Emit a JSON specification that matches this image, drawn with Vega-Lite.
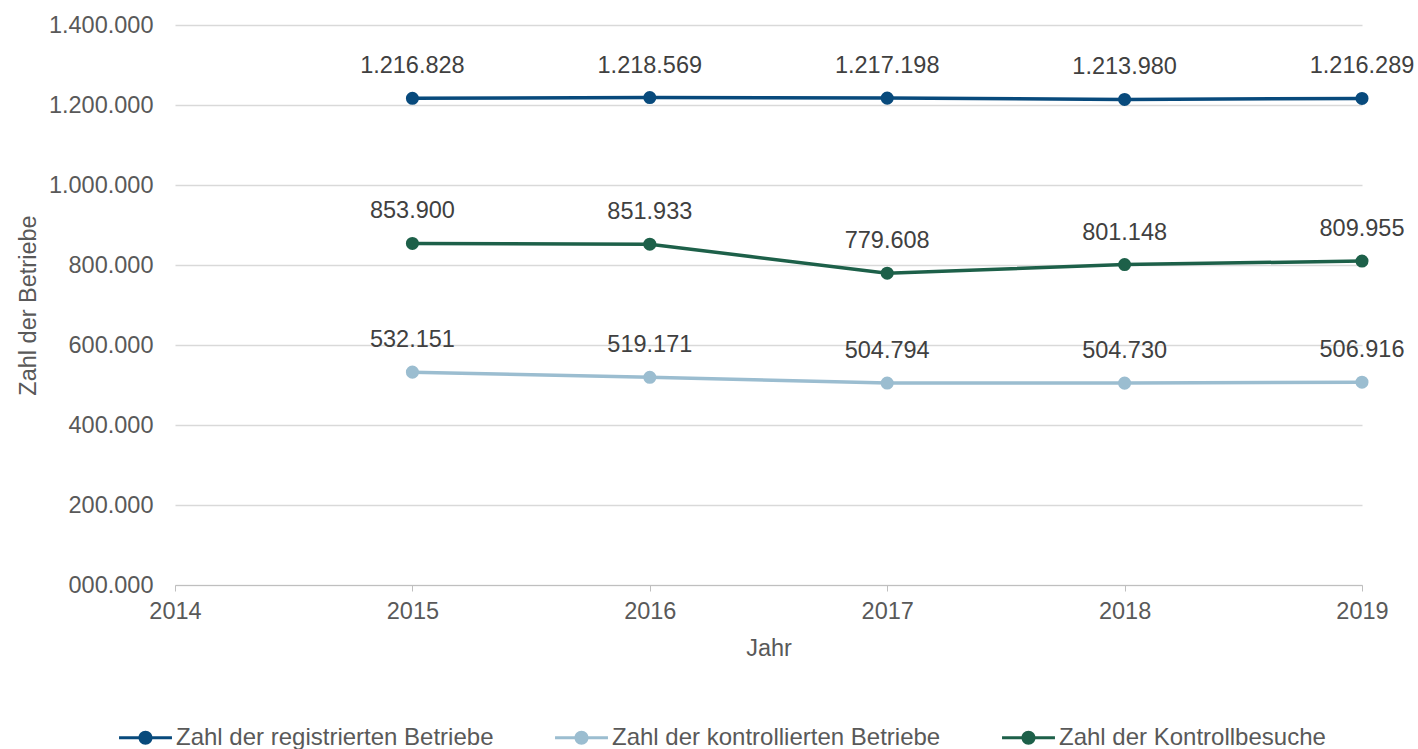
{
  "$schema": "https://vega.github.io/schema/vega-lite/v6.json",
  "width": 1187,
  "height": 560,
  "padding": {"left": 16, "top": 13, "right": 0, "bottom": 0},
  "background": "white",
  "config": {
    "locale": {"number": {"decimal": ",", "thousands": ".", "grouping": [3], "currency": ["", " €"]}},
    "font": "Liberation Sans",
    "view": {"stroke": null}
  },
  "data": {"values": [
    {"Jahr": 2015, "Serie": "Zahl der registrierten Betriebe", "Wert": 1216828},
    {"Jahr": 2016, "Serie": "Zahl der registrierten Betriebe", "Wert": 1218569},
    {"Jahr": 2017, "Serie": "Zahl der registrierten Betriebe", "Wert": 1217198},
    {"Jahr": 2018, "Serie": "Zahl der registrierten Betriebe", "Wert": 1213980},
    {"Jahr": 2019, "Serie": "Zahl der registrierten Betriebe", "Wert": 1216289},
    {"Jahr": 2015, "Serie": "Zahl der kontrollierten Betriebe", "Wert": 532151},
    {"Jahr": 2016, "Serie": "Zahl der kontrollierten Betriebe", "Wert": 519171},
    {"Jahr": 2017, "Serie": "Zahl der kontrollierten Betriebe", "Wert": 504794},
    {"Jahr": 2018, "Serie": "Zahl der kontrollierten Betriebe", "Wert": 504730},
    {"Jahr": 2019, "Serie": "Zahl der kontrollierten Betriebe", "Wert": 506916},
    {"Jahr": 2015, "Serie": "Zahl der Kontrollbesuche", "Wert": 853900},
    {"Jahr": 2016, "Serie": "Zahl der Kontrollbesuche", "Wert": 851933},
    {"Jahr": 2017, "Serie": "Zahl der Kontrollbesuche", "Wert": 779608},
    {"Jahr": 2018, "Serie": "Zahl der Kontrollbesuche", "Wert": 801148},
    {"Jahr": 2019, "Serie": "Zahl der Kontrollbesuche", "Wert": 809955}
  ]},
  "encoding": {
    "x": {
      "field": "Jahr", "type": "quantitative",
      "scale": {"domain": [2014, 2019], "nice": false, "zero": false},
      "axis": {
        "values": [2014, 2015, 2016, 2017, 2018, 2019], "format": "d", "title": "Jahr",
        "grid": false, "domainColor": "#bfbfbf", "tickColor": "#bfbfbf", "tickSize": 6,
        "labelPadding": 8, "labelFontSize": 23.5, "labelColor": "#595959", "labelFlush": false,
        "titleFontSize": 23.5, "titleColor": "#595959", "titleFontWeight": "normal", "titlePadding": 14
      }
    },
    "y": {
      "field": "Wert", "type": "quantitative",
      "scale": {"domain": [0, 1400000], "nice": false},
      "axis": {
        "values": [0, 200000, 400000, 600000, 800000, 1000000, 1200000, 1400000],
        "format": ",d", "labelExpr": "datum.value === 0 ? '000.000' : datum.label",
        "title": "Zahl der Betriebe", "domain": false, "ticks": false,
        "gridColor": "#d9d9d9", "gridWidth": 1.5, "labelPadding": 22,
        "labelFontSize": 23.5, "labelColor": "#595959",
        "titleFontSize": 23.5, "titleColor": "#595959", "titleFontWeight": "normal", "titlePadding": 8
      }
    },
    "color": {
      "field": "Serie", "type": "nominal",
      "scale": {
        "domain": ["Zahl der registrierten Betriebe", "Zahl der kontrollierten Betriebe", "Zahl der Kontrollbesuche"],
        "range": ["#084a7c", "#9bbdd0", "#1d6049"]
      },
      "legend": {
        "orient": "none", "legendX": -43, "legendY": 699, "direction": "horizontal", "title": null,
        "labelFontSize": 24, "labelColor": "#595959", "columnPadding": 61, "labelOffset": 17, "labelLimit": 0,
        "symbolType": "M -2 -0.11 H 2 V 0.11 H -2 Z M 0.53 0 A 0.53 0.53 0 1 1 -0.53 0 A 0.53 0.53 0 1 1 0.53 0 Z",
        "symbolSize": 700, "symbolStrokeWidth": 0,
        "encode": {"symbols": {"update": {"fill": {"scale": "color", "field": "value"}, "strokeWidth": {"value": 0}, "opacity": {"value": 1}}}}
      }
    }
  },
  "layer": [
    {"mark": {"type": "line", "strokeWidth": 3.5}},
    {"mark": {"type": "point", "filled": true, "size": 170, "opacity": 1}},
    {
      "mark": {"type": "text", "dy": -32, "fontSize": 23.5},
      "encoding": {
        "text": {"field": "Wert", "type": "quantitative", "format": ",d"},
        "color": {"value": "#404040"}
      }
    }
  ]
}
